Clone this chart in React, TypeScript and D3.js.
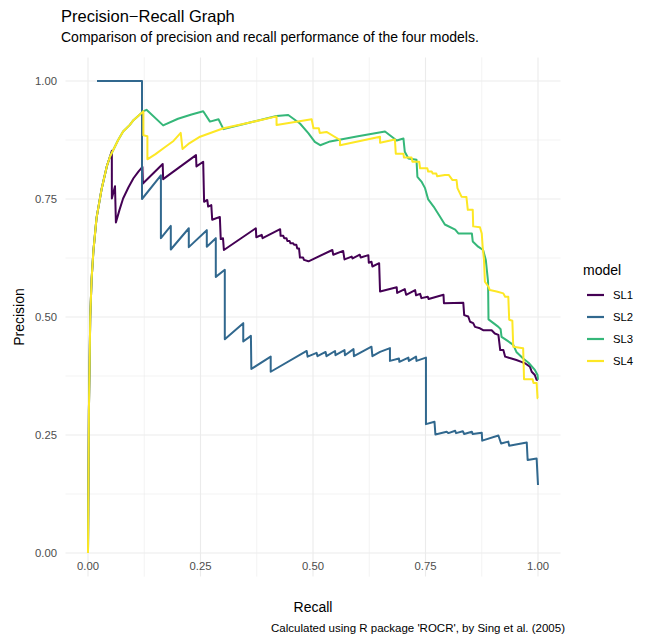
import React from "react";
import * as d3 from "d3";

// model names and colours (viridis, 4 levels)
const models = ["SL1", "SL2", "SL3", "SL4"];
const colors = ["#440154", "#31688E", "#35B779", "#FDE725"];

const ticks = [0, 0.25, 0.5, 0.75, 1];
const tickLabels = ["0.00", "0.25", "0.50", "0.75", "1.00"];

// shared steep start of the curves (recall, precision)
const rampUp: [number, number][] = [
  [0, 0], [0.002, 0.3], [0.005, 0.5], [0.008, 0.58], [0.012, 0.64], [0.019, 0.71],
  [0.03, 0.77], [0.042, 0.82], [0.049, 0.84],
];

const sl1: [number, number][] = [
  ...rampUp,
  [0.053, 0.852], [0.053, 0.751], [0.06, 0.777], [0.062, 0.7], [0.07, 0.727], [0.078, 0.751],
  [0.09, 0.775], [0.101, 0.794], [0.112, 0.808], [0.121, 0.818], [0.122, 0.783], [0.166, 0.824],
  [0.167, 0.792], [0.24, 0.843], [0.241, 0.819], [0.256, 0.829], [0.258, 0.744], [0.265, 0.748],
  [0.267, 0.734], [0.274, 0.737], [0.276, 0.706], [0.293, 0.712], [0.295, 0.665], [0.3, 0.667],
  [0.302, 0.642], [0.373, 0.688], [0.374, 0.669], [0.386, 0.674], [0.388, 0.667], [0.427, 0.686],
  [0.428, 0.672], [0.434, 0.672], [0.436, 0.667], [0.441, 0.667], [0.443, 0.661], [0.448, 0.661],
  [0.45, 0.656], [0.456, 0.656], [0.458, 0.653], [0.463, 0.653], [0.465, 0.645], [0.469, 0.645],
  [0.471, 0.626], [0.478, 0.626], [0.48, 0.621], [0.49, 0.618], [0.543, 0.642], [0.545, 0.632],
  [0.567, 0.64], [0.57, 0.622], [0.586, 0.628], [0.588, 0.624], [0.604, 0.632], [0.606, 0.626],
  [0.623, 0.631], [0.624, 0.615], [0.63, 0.617], [0.632, 0.607], [0.647, 0.614], [0.649, 0.554],
  [0.686, 0.563], [0.687, 0.551], [0.704, 0.559], [0.707, 0.547], [0.727, 0.557], [0.729, 0.546],
  [0.738, 0.549], [0.741, 0.54], [0.755, 0.543], [0.757, 0.538], [0.79, 0.547], [0.791, 0.529],
  [0.834, 0.53], [0.836, 0.504], [0.845, 0.501], [0.849, 0.49], [0.856, 0.487], [0.86, 0.479],
  [0.871, 0.476], [0.878, 0.472], [0.897, 0.472], [0.904, 0.465], [0.912, 0.462], [0.916, 0.43],
  [0.923, 0.43], [0.927, 0.416], [0.941, 0.412], [0.952, 0.409], [0.963, 0.405], [0.971, 0.402],
  [0.982, 0.395], [0.986, 0.384], [0.993, 0.377], [0.997, 0.367], [1.0, 0.367],
];

const sl2: [number, number][] = [
  [0.02, 1.0], [0.12, 1.0], [0.12, 0.75], [0.162, 0.8], [0.162, 0.667], [0.184, 0.693],
  [0.184, 0.643], [0.224, 0.688], [0.224, 0.648], [0.264, 0.684], [0.264, 0.649], [0.284, 0.667],
  [0.284, 0.585], [0.304, 0.6], [0.304, 0.453], [0.345, 0.487], [0.345, 0.448], [0.362, 0.46],
  [0.363, 0.39], [0.406, 0.416], [0.406, 0.384], [0.486, 0.428], [0.488, 0.416], [0.508, 0.424],
  [0.51, 0.417], [0.528, 0.426], [0.53, 0.417], [0.549, 0.428], [0.55, 0.419], [0.57, 0.43],
  [0.571, 0.419], [0.59, 0.432], [0.591, 0.417], [0.63, 0.437], [0.632, 0.417], [0.649, 0.426],
  [0.671, 0.434], [0.671, 0.407], [0.691, 0.412], [0.692, 0.405], [0.712, 0.414], [0.713, 0.407],
  [0.729, 0.416], [0.73, 0.407], [0.751, 0.414], [0.751, 0.273], [0.77, 0.278], [0.772, 0.251],
  [0.797, 0.257], [0.801, 0.254], [0.816, 0.259], [0.818, 0.254], [0.833, 0.258], [0.836, 0.252],
  [0.853, 0.257], [0.855, 0.252], [0.875, 0.255], [0.876, 0.238], [0.912, 0.249], [0.918, 0.232],
  [0.934, 0.236], [0.936, 0.227], [0.975, 0.234], [0.977, 0.197], [0.997, 0.2], [1.0, 0.144],
];

const sl3: [number, number][] = [
  ...rampUp,
  [0.067, 0.875], [0.078, 0.893], [0.093, 0.907], [0.101, 0.917], [0.119, 0.932], [0.123, 0.936],
  [0.13, 0.939], [0.167, 0.906], [0.2, 0.92], [0.23, 0.929], [0.256, 0.936], [0.271, 0.914],
  [0.29, 0.919], [0.301, 0.898], [0.36, 0.912], [0.419, 0.926], [0.445, 0.928], [0.471, 0.91],
  [0.49, 0.889], [0.504, 0.871], [0.516, 0.864], [0.538, 0.872], [0.6, 0.883], [0.66, 0.893],
  [0.686, 0.874], [0.701, 0.878], [0.704, 0.85], [0.712, 0.836], [0.73, 0.833], [0.732, 0.797],
  [0.741, 0.787], [0.749, 0.773], [0.756, 0.749], [0.768, 0.734], [0.782, 0.713], [0.793, 0.696],
  [0.816, 0.685], [0.823, 0.677], [0.853, 0.677], [0.855, 0.66], [0.867, 0.649], [0.878, 0.642],
  [0.884, 0.621], [0.889, 0.575], [0.89, 0.495], [0.901, 0.487], [0.912, 0.479], [0.917, 0.474],
  [0.919, 0.458], [0.93, 0.451], [0.945, 0.441], [0.952, 0.426], [0.967, 0.412], [0.979, 0.403],
  [0.993, 0.388], [0.999, 0.377], [1.0, 0.367],
];

const sl4: [number, number][] = [
  ...rampUp,
  [0.067, 0.875], [0.078, 0.893], [0.093, 0.907], [0.101, 0.917], [0.119, 0.932], [0.123, 0.936],
  [0.123, 0.885], [0.132, 0.883], [0.132, 0.834], [0.15, 0.845], [0.17, 0.859], [0.19, 0.873],
  [0.206, 0.89], [0.21, 0.856], [0.225, 0.868], [0.249, 0.882], [0.301, 0.9], [0.36, 0.912],
  [0.419, 0.925], [0.419, 0.907], [0.497, 0.919], [0.501, 0.9], [0.513, 0.9], [0.515, 0.89],
  [0.53, 0.892], [0.56, 0.875], [0.56, 0.864], [0.649, 0.882], [0.649, 0.869], [0.682, 0.876],
  [0.684, 0.846], [0.701, 0.846], [0.702, 0.838], [0.719, 0.838], [0.721, 0.829], [0.736, 0.829],
  [0.738, 0.815], [0.754, 0.815], [0.756, 0.808], [0.764, 0.808], [0.766, 0.804], [0.774, 0.804],
  [0.776, 0.798], [0.793, 0.801], [0.802, 0.801], [0.804, 0.798], [0.81, 0.79], [0.819, 0.79],
  [0.821, 0.773], [0.83, 0.755], [0.841, 0.754], [0.844, 0.727], [0.855, 0.727], [0.856, 0.692],
  [0.871, 0.69], [0.875, 0.677], [0.877, 0.649], [0.88, 0.621], [0.882, 0.575], [0.89, 0.564],
  [0.893, 0.557], [0.908, 0.554], [0.923, 0.55], [0.927, 0.543], [0.934, 0.543], [0.936, 0.494],
  [0.943, 0.492], [0.945, 0.437], [0.967, 0.434], [0.969, 0.368], [0.988, 0.368], [0.99, 0.36],
  [0.997, 0.36], [0.999, 0.328], [1.0, 0.328],
];

const series = [sl1, sl2, sl3, sl4];

const FONT = "'Liberation Sans', Arial, Helvetica, sans-serif";

const App: React.FC = () => {
  const width = 645,
    height = 637;
  const panel = { left: 65.5, right: 560.5, top: 57.4, bottom: 576.6 };

  // ggplot style 5% expansion on both axes
  const x = d3.scaleLinear().domain([-0.05, 1.05]).range([panel.left, panel.right]);
  const y = d3.scaleLinear().domain([-0.05, 1.05]).range([panel.bottom, panel.top]);

  const line = d3
    .line<[number, number]>()
    .x((d) => x(d[0]))
    .y((d) => y(d[1]));

  const minor = [0.125, 0.375, 0.625, 0.875];

  return (
    <svg
      width={width}
      height={height}
      style={{ position: "absolute", left: 0, top: 0, background: "#fff" }}
      fontFamily={FONT}
    >
      {/* grid */}
      {minor.map((v) => (
        <g key={"m" + v}>
          <line x1={x(v)} x2={x(v)} y1={panel.top} y2={panel.bottom} stroke="#EBEBEB" strokeWidth={0.6} />
          <line x1={panel.left} x2={panel.right} y1={y(v)} y2={y(v)} stroke="#EBEBEB" strokeWidth={0.6} />
        </g>
      ))}
      {ticks.map((v) => (
        <g key={"M" + v}>
          <line x1={x(v)} x2={x(v)} y1={panel.top} y2={panel.bottom} stroke="#EBEBEB" strokeWidth={1.1} />
          <line x1={panel.left} x2={panel.right} y1={y(v)} y2={y(v)} stroke="#EBEBEB" strokeWidth={1.1} />
        </g>
      ))}

      {/* curves */}
      {series.map((s, i) => (
        <path key={models[i]} d={line(s) || ""} fill="none" stroke={colors[i]} strokeWidth={2} strokeLinejoin="round" />
      ))}

      {/* axis tick labels */}
      {ticks.map((v, i) => (
        <text key={"xt" + v} x={x(v)} y={570} textAnchor="middle" fontSize={11.3} fill="#4D4D4D">
          {tickLabels[i]}
        </text>
      ))}
      {ticks.map((v, i) => (
        <text key={"yt" + v} x={57} y={y(v)} dy="0.35em" textAnchor="end" fontSize={11.3} fill="#4D4D4D">
          {tickLabels[i]}
        </text>
      ))}

      {/* axis titles */}
      <text x={(panel.left + panel.right) / 2} y={612} textAnchor="middle" fontSize={14} fill="#000">
        Recall
      </text>
      <text
        transform={`translate(24,${(panel.top + panel.bottom) / 2}) rotate(-90)`}
        textAnchor="middle"
        fontSize={14}
        fill="#000"
      >
        Precision
      </text>

      {/* titles */}
      <text x={61} y={22} fontSize={16.5} fill="#000">
        Precision−Recall Graph
      </text>
      <text x={61} y={42} fontSize={14} fill="#000">
        Comparison of precision and recall performance of the four models.
      </text>
      <text x={565} y={632} textAnchor="end" fontSize={11.5} fill="#000">
        Calculated using R package 'ROCR', by Sing et al. (2005)
      </text>

      {/* legend */}
      <text x={583} y={275} fontSize={14} fill="#000">
        model
      </text>
      {models.map((m, i) => (
        <g key={"lg" + m} transform={`translate(0,${295 + i * 22})`}>
          <line x1={587} x2={604} y1={0} y2={0} stroke={colors[i]} strokeWidth={2.2} />
          <text x={613} y={0} dy="0.35em" fontSize={11.3} fill="#000">
            {m}
          </text>
        </g>
      ))}
    </svg>
  );
};

export default App;
